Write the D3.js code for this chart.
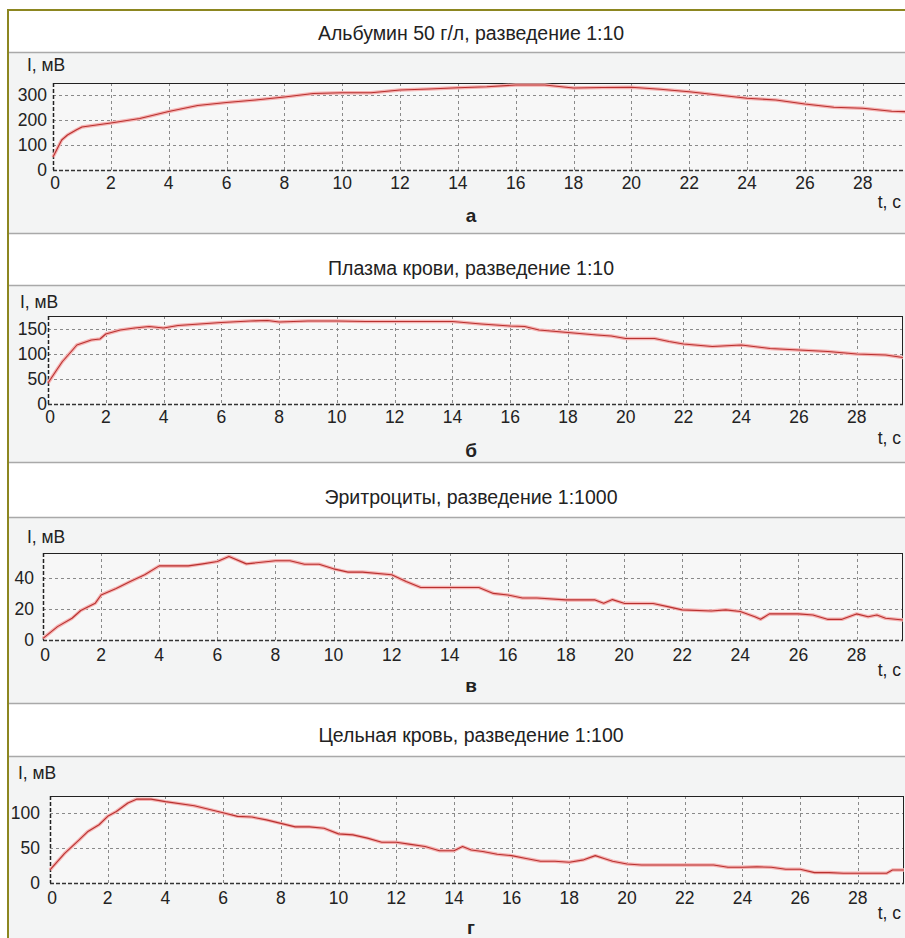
<!DOCTYPE html>
<html>
<head>
<meta charset="utf-8">
<script src="https://cdn.jsdelivr.net/npm/d3@7"></script>
<style>
  body { margin: 0; background: #fff; }
  svg { display: block; font-family: "Liberation Sans", Arial, sans-serif; }
</style>
</head>
<body>
<svg id="chart" width="905" height="938"></svg>
<script>
// chart titles and panel letters
const titles = [
  'Альбумин 50 г/л, разведение 1:10',
  'Плазма крови, разведение 1:10',
  'Эритроциты, разведение 1:1000',
  'Цельная кровь, разведение 1:100'
]
const letters = ['а', 'б', 'в', 'г']
const xTicks = [0, 2, 4, 6, 8, 10, 12, 14, 16, 18, 20, 22, 24, 26, 28]

// y ticks per panel
const yTicksA = [0, 100, 200, 300]
const yTicksB = [0, 50, 100, 150]
const yTicksC = [0, 20, 40]
const yTicksD = [0, 50, 100]

// [t, c ; I, мВ]
const albumin = [
  [0, 52], [0.3, 120], [0.5, 140], [0.8, 160], [1, 172], [1.5, 180], [2, 188], [3, 206],
  [4, 234], [5, 258], [6, 270], [7, 280], [8, 292], [9, 306], [10, 309], [11, 309],
  [12, 320], [13, 324], [14, 329], [15, 333], [16, 340], [17, 340], [18, 328], [19, 330],
  [20, 331], [21, 323], [22, 313], [23, 300], [24, 287], [25, 280], [26, 264], [27, 251],
  [28, 247], [29, 235], [29.6, 233]
]
const plasma = [
  [0, 42], [0.3, 68], [0.5, 85], [0.7, 98], [1, 118], [1.5, 128], [1.8, 130], [2, 140],
  [2.5, 148], [3, 152], [3.5, 155], [4, 152], [4.5, 157], [5, 159], [5.5, 161], [6, 163],
  [7, 166], [7.6, 167], [8, 164], [9, 166], [10, 166], [11, 165], [12, 165], [13, 165],
  [14, 165], [15, 160], [16, 156], [16.5, 155], [17, 148], [18, 143], [19, 138], [19.5, 136],
  [20, 131], [21, 131], [21.5, 125], [22, 120], [23, 115], [24, 118], [25, 111], [26, 108],
  [27, 105], [28, 100], [29, 98], [29.6, 93]
]
const erythrocytes = [
  [0, 1], [0.5, 8.6], [1, 14], [1.3, 19], [1.8, 23.7], [2, 29], [2.5, 33], [3, 37.6],
  [3.5, 42], [4, 47.7], [5, 47.7], [5.5, 49], [6, 50.5], [6.4, 53.8], [7, 49], [8, 51],
  [8.5, 51], [9, 48.8], [9.5, 48.8], [10, 45.8], [10.5, 43.7], [11, 43.7], [12, 42],
  [12.5, 37.6], [13, 33.8], [14, 33.8], [15, 33.8], [15.5, 30], [16, 29], [16.5, 27],
  [17, 27], [18, 25.8], [19, 25.8], [19.3, 23.6], [19.6, 26], [20, 23.6], [21, 23.5],
  [21.5, 21.5], [22, 19.4], [23, 18.7], [23.5, 19.4], [24, 18.3], [24.5, 15], [24.7, 13.3],
  [25, 16.8], [26, 16.8], [26.5, 16.1], [27, 13.3], [27.5, 13.3], [28, 16.8], [28.4, 15],
  [28.7, 16.1], [29, 14], [29.6, 12.9]
]
const wholeBlood = [
  [0, 18.6], [0.2, 28], [0.5, 42], [1, 61], [1.3, 73], [1.7, 83], [2, 95], [2.3, 102],
  [2.7, 114], [3, 119.5], [3.5, 119.5], [4, 116], [5, 110], [6, 100], [6.5, 95], [7, 94],
  [7.5, 90], [8, 85], [8.5, 80], [9, 80], [9.5, 78], [10, 70], [10.5, 68.6], [11, 64],
  [11.5, 58], [12, 58], [12.5, 55], [13, 52], [13.5, 46], [14, 46], [14.3, 52], [14.6, 47],
  [15, 45], [15.5, 41], [16, 39], [16.5, 35], [17, 31], [17.5, 31], [18, 29.5], [18.5, 33],
  [18.9, 39], [19.2, 35], [19.5, 31], [20, 27], [20.5, 25.7], [22, 25.7], [23, 25.7],
  [23.5, 22.4], [24, 22.4], [24.5, 23], [25, 22.4], [25.5, 19.5], [26, 19.5], [26.5, 14.8],
  [27, 14.8], [27.5, 13.8], [28, 14], [29, 14], [29.2, 18.6], [29.6, 18.6]
]

// layout of the four panels
const panels = [
  { series: albumin, yTicks: yTicksA, yMax: 348, bandTop: 10, bgTop: 52, bgBottom: 233,
    titleY: 40, yLabelY: 71, yLabelX: 27, plotTop: 83, plotBottom: 170, left: 53, right: 909,
    tickRight: 47, xLabelY: 189, tY: 208, letterY: 222, rightLine: false },
  { series: plasma, yTicks: yTicksB, yMax: 176, bandTop: 233, bgTop: 285, bgBottom: 462,
    titleY: 275, yLabelY: 308, yLabelX: 20, plotTop: 316, plotBottom: 404, left: 48, right: 903,
    tickRight: 47, xLabelY: 423, tY: 444, letterY: 457, rightLine: true },
  { series: erythrocytes, yTicks: yTicksC, yMax: 56, bandTop: 462, bgTop: 517, bgBottom: 703,
    titleY: 504, yLabelY: 543, yLabelX: 27, plotTop: 553, plotBottom: 640, left: 43, right: 903,
    tickRight: 34, xLabelY: 661, tY: 676, letterY: 692, rightLine: true },
  { series: wholeBlood, yTicks: yTicksD, yMax: 124, bandTop: 703, bgTop: 756, bgBottom: 945,
    titleY: 742, yLabelY: 779, yLabelX: 18, plotTop: 796, plotBottom: 883, left: 50, right: 904,
    tickRight: 40, xLabelY: 904, tY: 919, letterY: 934, rightLine: true }
]

const svg = d3.select('#chart')

panels.forEach((p, i) => {
  const g = svg.append('g')

  // white title band and grey plot band
  g.append('rect')
    .attr('x', 8).attr('y', p.bandTop)
    .attr('width', 905).attr('height', p.bgTop - p.bandTop)
    .attr('fill', '#fff')
  g.append('rect')
    .attr('x', 8).attr('y', p.bgTop)
    .attr('width', 905).attr('height', p.bgBottom - p.bgTop)
    .attr('fill', '#f3f4f4')
  g.append('line')
    .attr('x1', 8).attr('x2', 905)
    .attr('y1', p.bgTop + 0.5).attr('y2', p.bgTop + 0.5)
    .attr('stroke', '#a9a9a9').attr('stroke-width', 1.5)
  if (i > 0) {
    g.append('line')
      .attr('x1', 8).attr('x2', 905)
      .attr('y1', p.bandTop + 0.5).attr('y2', p.bandTop + 0.5)
      .attr('stroke', '#a9a9a9').attr('stroke-width', 1.5)
  }

  g.append('text')
    .attr('x', 471).attr('y', p.titleY)
    .attr('text-anchor', 'middle')
    .attr('font-size', '19.5px')
    .attr('fill', '#222')
    .text(titles[i])

  const x = d3.scaleLinear().domain([0, 29.6]).range([p.left, p.right])
  const y = d3.scaleLinear().domain([0, p.yMax]).range([p.plotBottom, p.plotTop])

  // plot area
  g.append('rect')
    .attr('x', p.left).attr('y', p.plotTop)
    .attr('width', p.right - p.left).attr('height', p.plotBottom - p.plotTop)
    .attr('fill', '#f7f7f7')

  // grid
  g.selectAll('.vgrid')
    .data(xTicks.filter(d => d > 0))
    .enter()
    .append('line')
    .attr('x1', d => Math.round(x(d)) + 0.5).attr('x2', d => Math.round(x(d)) + 0.5)
    .attr('y1', p.plotTop).attr('y2', p.plotBottom)
    .attr('stroke', '#8a8a8a')
    .attr('stroke-dasharray', '3,3')
  g.selectAll('.hgrid')
    .data(p.yTicks.filter(d => d > 0))
    .enter()
    .append('line')
    .attr('x1', p.left).attr('x2', p.right)
    .attr('y1', d => Math.round(y(d)) + 0.5).attr('y2', d => Math.round(y(d)) + 0.5)
    .attr('stroke', '#8a8a8a')
    .attr('stroke-dasharray', '3,3')

  // frame: solid top/right, dashed axes
  g.append('line')
    .attr('x1', p.left).attr('x2', p.right)
    .attr('y1', p.plotTop + 0.5).attr('y2', p.plotTop + 0.5)
    .attr('stroke', '#222')
  if (p.rightLine) {
    g.append('line')
      .attr('x1', p.right - 0.5).attr('x2', p.right - 0.5)
      .attr('y1', p.plotTop).attr('y2', p.plotBottom)
      .attr('stroke', '#222')
  }
  g.append('line')
    .attr('x1', p.left).attr('x2', p.right)
    .attr('y1', p.plotBottom + 0.5).attr('y2', p.plotBottom + 0.5)
    .attr('stroke', '#333').attr('stroke-width', 1.5)
    .attr('stroke-dasharray', '4,2')
  g.append('line')
    .attr('x1', p.left + 0.5).attr('x2', p.left + 0.5)
    .attr('y1', p.plotTop).attr('y2', p.plotBottom)
    .attr('stroke', '#222').attr('stroke-width', 1.5)
    .attr('stroke-dasharray', '4,2')

  // tick labels
  g.selectAll('.xlab')
    .data(xTicks)
    .enter()
    .append('text')
    .attr('x', d => x(d) + (d === 0 ? 2 : 0))
    .attr('y', p.xLabelY)
    .attr('text-anchor', 'middle')
    .attr('font-size', '17.5px')
    .attr('fill', '#222')
    .text(d => d)
  g.selectAll('.ylab')
    .data(p.yTicks)
    .enter()
    .append('text')
    .attr('x', p.tickRight)
    .attr('y', d => y(d) + 6)
    .attr('text-anchor', 'end')
    .attr('font-size', '17.5px')
    .attr('fill', '#222')
    .text(d => d)

  g.append('text')
    .attr('x', p.yLabelX).attr('y', p.yLabelY)
    .attr('font-size', '17.5px')
    .attr('fill', '#222')
    .text('I, мВ')
  g.append('text')
    .attr('x', 901).attr('y', p.tY)
    .attr('text-anchor', 'end')
    .attr('font-size', '17.5px')
    .attr('fill', '#222')
    .text('t, c')
  g.append('text')
    .attr('x', 471).attr('y', p.letterY)
    .attr('text-anchor', 'middle')
    .attr('font-size', '19px')
    .attr('font-weight', 'bold')
    .attr('fill', '#222')
    .text(letters[i])

  // signal line: pale halo + dark red core
  const line = d3.line().x(d => x(d[0])).y(d => y(d[1]))
  g.append('path')
    .datum(p.series)
    .attr('d', line)
    .attr('fill', 'none')
    .attr('stroke', '#f5b3b3')
    .attr('stroke-width', 3.5)
    .attr('stroke-linejoin', 'round')
  g.append('path')
    .datum(p.series)
    .attr('d', line)
    .attr('fill', 'none')
    .attr('stroke', '#b8312f')
    .attr('stroke-width', 1.1)
    .attr('stroke-linejoin', 'round')
})

// olive outer frame
svg.append('line')
  .attr('x1', 8).attr('x2', 905)
  .attr('y1', 10).attr('y2', 10)
  .attr('stroke', '#8c8620').attr('stroke-width', 2)
svg.append('line')
  .attr('x1', 8).attr('x2', 8)
  .attr('y1', 9).attr('y2', 938)
  .attr('stroke', '#8c8620').attr('stroke-width', 2)
</script>
</body>
</html>
